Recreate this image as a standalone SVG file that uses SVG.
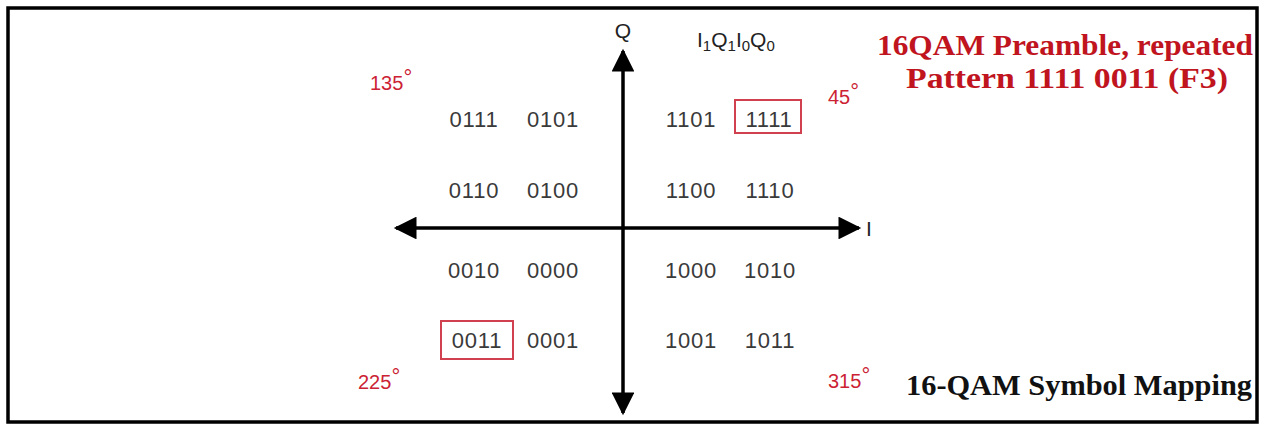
<svg xmlns="http://www.w3.org/2000/svg" width="1261" height="425" viewBox="0 0 1261 425">
<style>
.pt{font-family:"Liberation Sans",Arial,sans-serif;font-size:22px;fill:#3a3a3a;text-anchor:middle;letter-spacing:0.8px}
.ang{font-family:"Liberation Sans",Arial,sans-serif;font-size:20px;fill:#cc2233}
.deg{font-family:"Liberation Sans",Arial,sans-serif;font-size:22px;fill:#cc2233}
.ax{font-family:"Liberation Sans",Arial,sans-serif;font-size:21px;fill:#222}
.ttl{font-family:"Liberation Serif","Times New Roman",serif;font-weight:bold;font-size:29px;fill:#c0141e}
.blk{font-family:"Liberation Serif","Times New Roman",serif;font-weight:bold;font-size:29px;fill:#111}
.hl{fill:none;stroke:#d0404e;stroke-width:2}
.axis{stroke:#000;stroke-width:3.5;fill:none}
</style>
<defs>
<marker id="ah" viewBox="0 0 10 10" refX="9" refY="5" markerWidth="11" markerHeight="6.5" markerUnits="strokeWidth" orient="auto">
<path d="M0,0 L10,5 L0,10 Z" fill="#000"/>
</marker>
</defs>
<rect x="0" y="0" width="1261" height="425" fill="#fff"/>
<rect x="8" y="8" width="1249" height="414" fill="none" stroke="#000" stroke-width="3.5"/>
<g id="connectors">
<line class="axis" x1="623" y1="228" x2="623" y2="51" marker-end="url(#ah)"/>
<line class="axis" x1="623" y1="228" x2="623" y2="413" marker-end="url(#ah)"/>
<line class="axis" x1="623" y1="228" x2="396" y2="228" marker-end="url(#ah)"/>
<line class="axis" x1="623" y1="228" x2="859" y2="228" marker-end="url(#ah)"/>
</g>
<g id="axis-labels">
<text class="ax" x="623" y="38" text-anchor="middle">Q</text>
<text class="ax" x="866" y="236">I</text>
<text class="ax" x="697" y="47" font-size="24">I<tspan font-size="15" dy="4">1</tspan><tspan dy="-4">Q</tspan><tspan font-size="15" dy="4">1</tspan><tspan dy="-4">I</tspan><tspan font-size="15" dy="4">0</tspan><tspan dy="-4">Q</tspan><tspan font-size="15" dy="4">0</tspan></text>
</g>
<g id="points">
<text class="pt" x="474" y="127">0111</text>
<text class="pt" x="553" y="127">0101</text>
<text class="pt" x="691" y="127">1101</text>
<g id="p1111"><rect class="hl" x="735" y="100" width="66" height="33"/><text class="pt" x="769" y="127">1111</text></g>
<text class="pt" x="474" y="198">0110</text>
<text class="pt" x="553" y="198">0100</text>
<text class="pt" x="691" y="198">1100</text>
<text class="pt" x="770" y="198">1110</text>
<text class="pt" x="474" y="278">0010</text>
<text class="pt" x="553" y="278">0000</text>
<text class="pt" x="691" y="278">1000</text>
<text class="pt" x="770" y="278">1010</text>
<g id="p0011"><rect class="hl" x="441" y="321" width="72" height="38"/><text class="pt" x="477" y="348">0011</text></g>
<text class="pt" x="553" y="348">0001</text>
<text class="pt" x="691" y="348">1001</text>
<text class="pt" x="770" y="348">1011</text>
</g>
<g id="angles">
<text class="ang" x="370" y="90">135<tspan class="deg" dy="-5">°</tspan></text>
<text class="ang" x="828" y="104">45<tspan class="deg" dy="-5">°</tspan></text>
<text class="ang" x="358" y="389">225<tspan class="deg" dy="-5">°</tspan></text>
<text class="ang" x="828" y="388">315<tspan class="deg" dy="-5">°</tspan></text>
</g>
<g id="title">
<text class="ttl" x="877" y="55" textLength="376" lengthAdjust="spacingAndGlyphs">16QAM Preamble, repeated</text>
<text class="ttl" x="906" y="88" textLength="322" lengthAdjust="spacingAndGlyphs">Pattern 1111 0011 (F3)</text>
</g>
<g id="caption">
<text class="blk" x="906" y="395" textLength="346" lengthAdjust="spacingAndGlyphs">16-QAM Symbol Mapping</text>
</g>
</svg>
